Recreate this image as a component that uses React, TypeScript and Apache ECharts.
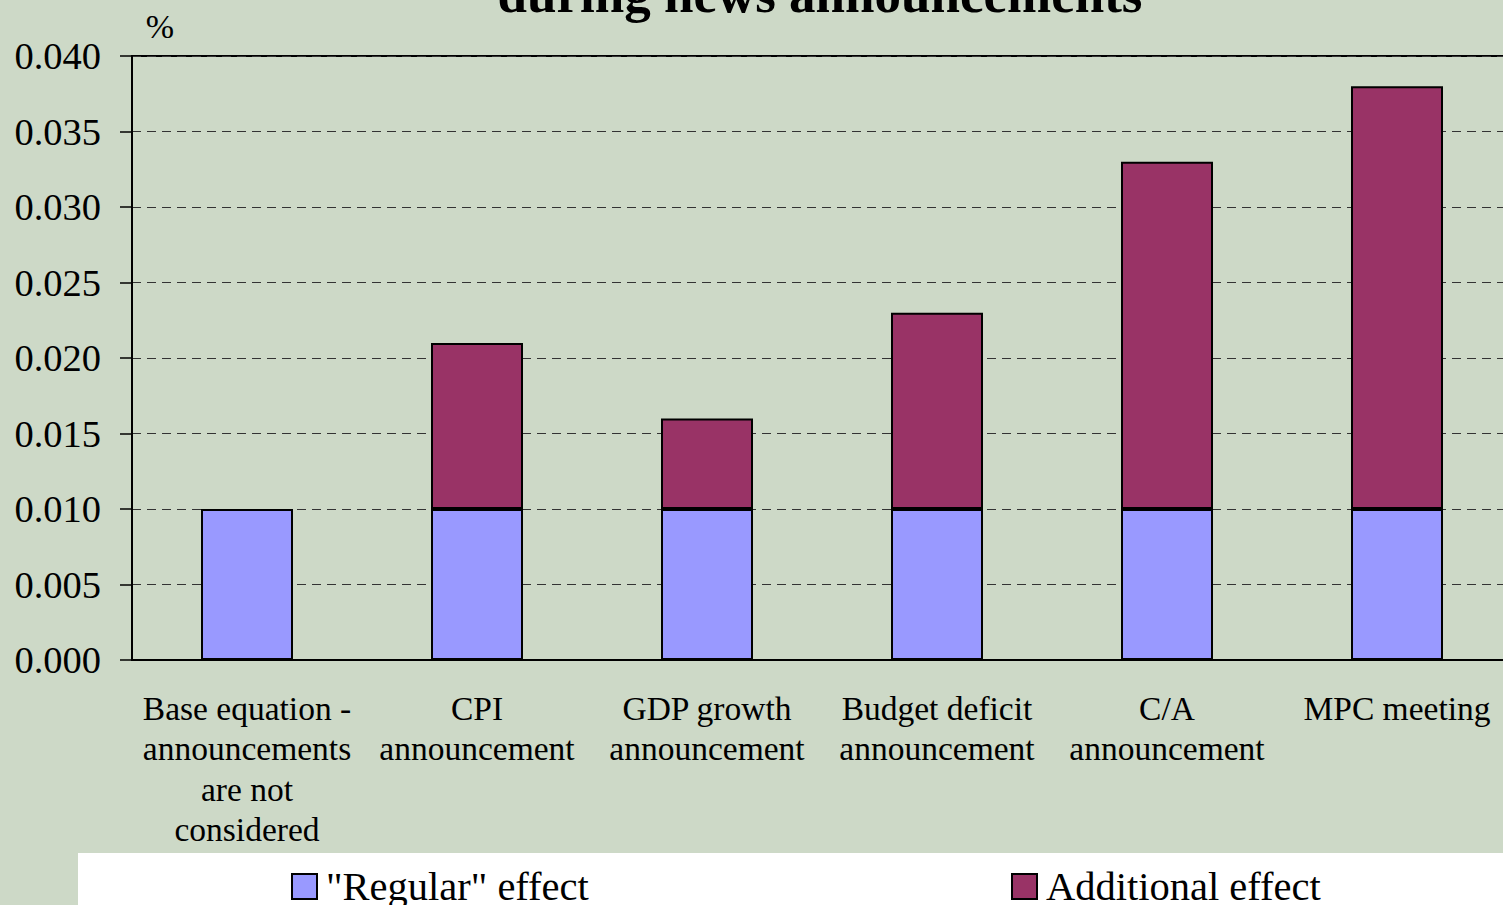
import React, { useEffect, useRef } from "react";
import * as echarts from "echarts";

const categories = [
  "Base equation -\nannouncements\nare not\nconsidered",
  "CPI\nannouncement",
  "GDP growth\nannouncement",
  "Budget deficit\nannouncement",
  "C/A\nannouncement",
  "MPC meeting",
];
const regularEffect = [0.01, 0.01, 0.01, 0.01, 0.01, 0.01];
const additionalEffect = [null, 0.011, 0.006, 0.013, 0.023, 0.028];
const seriesNames = ['"Regular" effect', "Additional effect"];
const titleText = "during news announcements";
const unitText = "%";

const FONT = "'Liberation Serif', 'Times New Roman', serif";

export default function App() {
  const ref = useRef<HTMLDivElement>(null);
  useEffect(() => {
    if (!ref.current) return;
    const chart = echarts.init(ref.current, null, { renderer: "svg" });
    chart.setOption({
      animation: false,
      backgroundColor: "#cdd9c7",
      textStyle: { fontFamily: FONT },
      grid: {
        left: 132,
        top: 56,
        right: 8,
        bottom: 245,
        show: true,
        borderColor: "#000",
        borderWidth: 2,
        backgroundColor: "transparent",
      },
      xAxis: {
        type: "category",
        data: categories,
        axisLine: { lineStyle: { color: "#000", width: 2 } },
        axisTick: { interval: 0, length: 9, lineStyle: { color: "#000", width: 1.5 } },
        axisLabel: {
          interval: 0,
          margin: 28,
          fontSize: 33.5,
          lineHeight: 40.5,
          color: "#000",
          fontFamily: FONT,
          align: "center",
          verticalAlign: "top",
        },
      },
      yAxis: {
        type: "value",
        min: 0,
        max: 0.04,
        interval: 0.005,
        axisLine: { show: true, lineStyle: { color: "#000", width: 2 } },
        axisTick: { show: true, length: 12, lineStyle: { color: "#000", width: 1.5 } },
        axisLabel: {
          margin: 31,
          fontSize: 38.5,
          color: "#000",
          fontFamily: FONT,
          formatter: (v: number) => v.toFixed(3),
        },
        splitLine: {
          show: true,
          lineStyle: { color: "#333", width: 1.2, type: [9, 6] },
        },
      },
      legend: [
        {
          data: [seriesNames[0]],
          left: 291,
          top: 866,
          padding: 0,
          itemWidth: 25,
          itemHeight: 25,
          icon: "rect",
          textStyle: { fontSize: 40.5, color: "#000", fontFamily: FONT, padding: [0, 0, 0, 4] },
        },
        {
          data: [seriesNames[1]],
          left: 1011,
          top: 866,
          padding: 0,
          itemWidth: 25,
          itemHeight: 25,
          icon: "rect",
          textStyle: { fontSize: 40.5, color: "#000", fontFamily: FONT, padding: [0, 0, 0, 4] },
        },
      ],
      graphic: [
        {
          type: "rect",
          z: 0,
          shape: { x: 78, y: 853, width: 1500, height: 80 },
          style: { fill: "#ffffff" },
        },
        {
          type: "text",
          x: 820,
          y: -6,
          style: {
            text: titleText,
            fontSize: 53,
            fontWeight: "bold",
            fontFamily: FONT,
            fill: "#000",
            align: "center",
            verticalAlign: "middle",
          },
        },
        {
          type: "text",
          x: 160,
          y: 26,
          style: {
            text: unitText,
            fontSize: 34,
            fontFamily: FONT,
            fill: "#000",
            align: "center",
            verticalAlign: "middle",
          },
        },
      ],
      series: [
        {
          name: seriesNames[0],
          type: "bar",
          stack: "total",
          barWidth: 92,
          data: regularEffect,
          itemStyle: { color: "#9999ff", borderColor: "#000", borderWidth: 2 },
        },
        {
          name: seriesNames[1],
          type: "bar",
          stack: "total",
          barWidth: 92,
          data: additionalEffect,
          itemStyle: { color: "#993366", borderColor: "#000", borderWidth: 2 },
        },
      ],
    });
    return () => chart.dispose();
  }, []);
  return (
    <div
      ref={ref}
      style={{ position: "fixed", left: 0, top: 0, width: 1520, height: 905 }}
    />
  );
}
